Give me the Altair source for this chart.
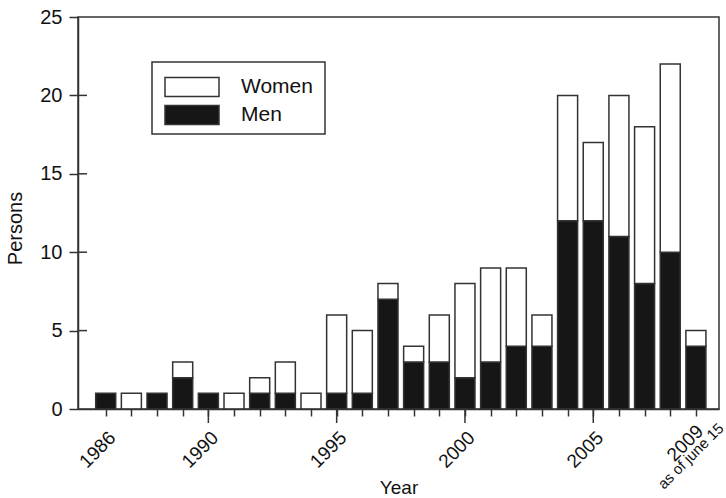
import altair as alt
import pandas as pd

# Annual counts, 1986 through mid-June 2009
years = list(range(1986, 2010))
men = [1, 0, 1, 2, 1, 0, 1, 1, 0, 1, 1, 7, 3, 3, 2, 3, 4, 4, 12, 12, 11, 8, 10, 4]
women = [0, 1, 0, 1, 0, 1, 1, 2, 1, 5, 4, 1, 1, 3, 6, 6, 5, 2, 8, 5, 9, 10, 12, 1]

labelled_years = [1986, 1990, 1995, 2000, 2005]
major_years = [1990, 1995, 2000, 2005]
last_year = 2009
last_year_note = "as of june 15"
y_ticks = [0, 5, 10, 15, 20, 25]
inner_y_ticks = [5, 10, 15, 20]

FONT = "Liberation Sans"
INK = "#333333"
TEXT = "#111111"
W, H = 641, 392

rows = []
for y, m, w in zip(years, men, women):
    if m > 0:
        rows.append({"year": y, "sex": "Men", "lo": 0, "hi": m})
    if w > 0:
        rows.append({"year": y, "sex": "Women", "lo": m, "hi": m + w})
bars_df = pd.DataFrame(rows)

x_scale = alt.Scale(domain=[1984.92, 2009.9], nice=False, zero=False)
y_scale = alt.Scale(domain=[0, 25], nice=False)

label_test = "indexof([" + ",".join(str(v) for v in labelled_years) + "], datum.value) >= 0"

x_axis = alt.Axis(
    values=years,
    labelExpr=f"{label_test} ? datum.label : ''",
    format="d",
    tickSize=7,
    tickColor=INK,
    tickWidth=1.5,
    domainColor=INK,
    domainWidth=1.5,
    labelAngle=315,
    labelAlign="right",
    labelBaseline="top",
    labelPadding=12,
    labelFont=FONT,
    labelFontSize=19,
    labelColor=TEXT,
    labelOverlap=False,
    labelFlush=False,
    title="Year",
    titleFont=FONT,
    titleFontSize=19,
    titleFontWeight="normal",
    titleColor=TEXT,
    titleBaseline="alphabetic",
    titleY=84,
    grid=False,
    zindex=2,
)

y_axis = alt.Axis(
    values=y_ticks,
    tickSize=9,
    tickColor=INK,
    tickWidth=1.5,
    domainColor=INK,
    domainWidth=1.5,
    labelPadding=7,
    labelFont=FONT,
    labelFontSize=20,
    labelColor=TEXT,
    title="Persons",
    titleFont=FONT,
    titleFontSize=20,
    titleFontWeight="normal",
    titleColor=TEXT,
    titlePadding=14,
    titleY=211,
    grid=False,
    zindex=2,
)

legend = alt.Legend(
    title=None,
    orient="none",
    legendX=86,
    legendY=59,
    direction="vertical",
    # wide swatch: 54 x 19 px, starting at the entry's left edge
    symbolType="M-1,-0.95H4.4V0.95H-1Z",
    symbolSize=400,
    symbolStrokeColor=INK,
    symbolStrokeWidth=1.5,
    labelFont=FONT,
    labelFontSize=21,
    labelColor=TEXT,
    labelOffset=55,
    padding=0,
    rowPadding=2,
)

bars = (
    alt.Chart(bars_df)
    .transform_calculate(x0="datum.year - 0.39", x1="datum.year + 0.39")
    .mark_rect(stroke=INK, strokeWidth=1.5)
    .encode(
        x=alt.X("x0:Q", scale=x_scale, axis=x_axis),
        x2="x1:Q",
        y=alt.Y("lo:Q", scale=y_scale, axis=y_axis),
        y2="hi:Q",
        fill=alt.Fill(
            "sex:N",
            scale=alt.Scale(domain=["Women", "Men"], range=["white", "#161616"]),
            legend=legend,
        ),
    )
)

# longer ticks at the five-year marks
major_ticks = (
    alt.Chart(pd.DataFrame({"year": major_years}))
    .mark_rule(color=INK, strokeWidth=1.5, clip=False)
    .encode(
        x=alt.X("year:Q", scale=x_scale, axis=x_axis),
        y=alt.value(H),
        y2=alt.value(H + 14),
    )
)

# inward half of the y ticks
inner_ticks = (
    alt.Chart(pd.DataFrame({"v": inner_y_ticks}))
    .mark_rule(color=INK, strokeWidth=1.5)
    .encode(
        y=alt.Y("v:Q", scale=y_scale, axis=y_axis),
        x=alt.value(0),
        x2=alt.value(9),
    )
)

# frame around the legend
legend_box = (
    alt.Chart(pd.DataFrame({"k": [0]}))
    .mark_rect(fill="white", stroke=INK, strokeWidth=1.5)
    .encode(
        x=alt.value(74),
        x2=alt.value(247),
        y=alt.value(45),
        y2=alt.value(117),
    )
)

# the partial final year gets a two-part label
last_df = pd.DataFrame({"year": [last_year], "label": [str(last_year)], "note": [last_year_note]})

last_label = (
    alt.Chart(last_df)
    .mark_text(
        align="right",
        baseline="top",
        angle=315,
        xOffset=-2,
        font=FONT,
        fontSize=19,
        color=TEXT,
        clip=False,
    )
    .encode(x=alt.X("year:Q", scale=x_scale, axis=x_axis), y=alt.value(H + 13), text="label:N")
)

note = (
    alt.Chart(last_df)
    .mark_text(
        align="left",
        baseline="alphabetic",
        angle=315,
        xOffset=-32,
        font=FONT,
        fontSize=15,
        color=TEXT,
        clip=False,
    )
    .encode(x=alt.X("year:Q", scale=x_scale, axis=x_axis), y=alt.value(H + 81), text="note:N")
)

chart = (
    alt.layer(bars, inner_ticks, major_ticks, legend_box, last_label, note)
    .properties(
        width=W,
        height=H,
        autosize=alt.AutoSizeParams(type="none"),
        padding={"left": 78, "top": 17, "right": 7, "bottom": 89},
        background="white",
    )
    .configure_view(stroke=INK, strokeWidth=1.5)
)

chart.save("out.html", embed_options={"renderer": "svg", "actions": False})
